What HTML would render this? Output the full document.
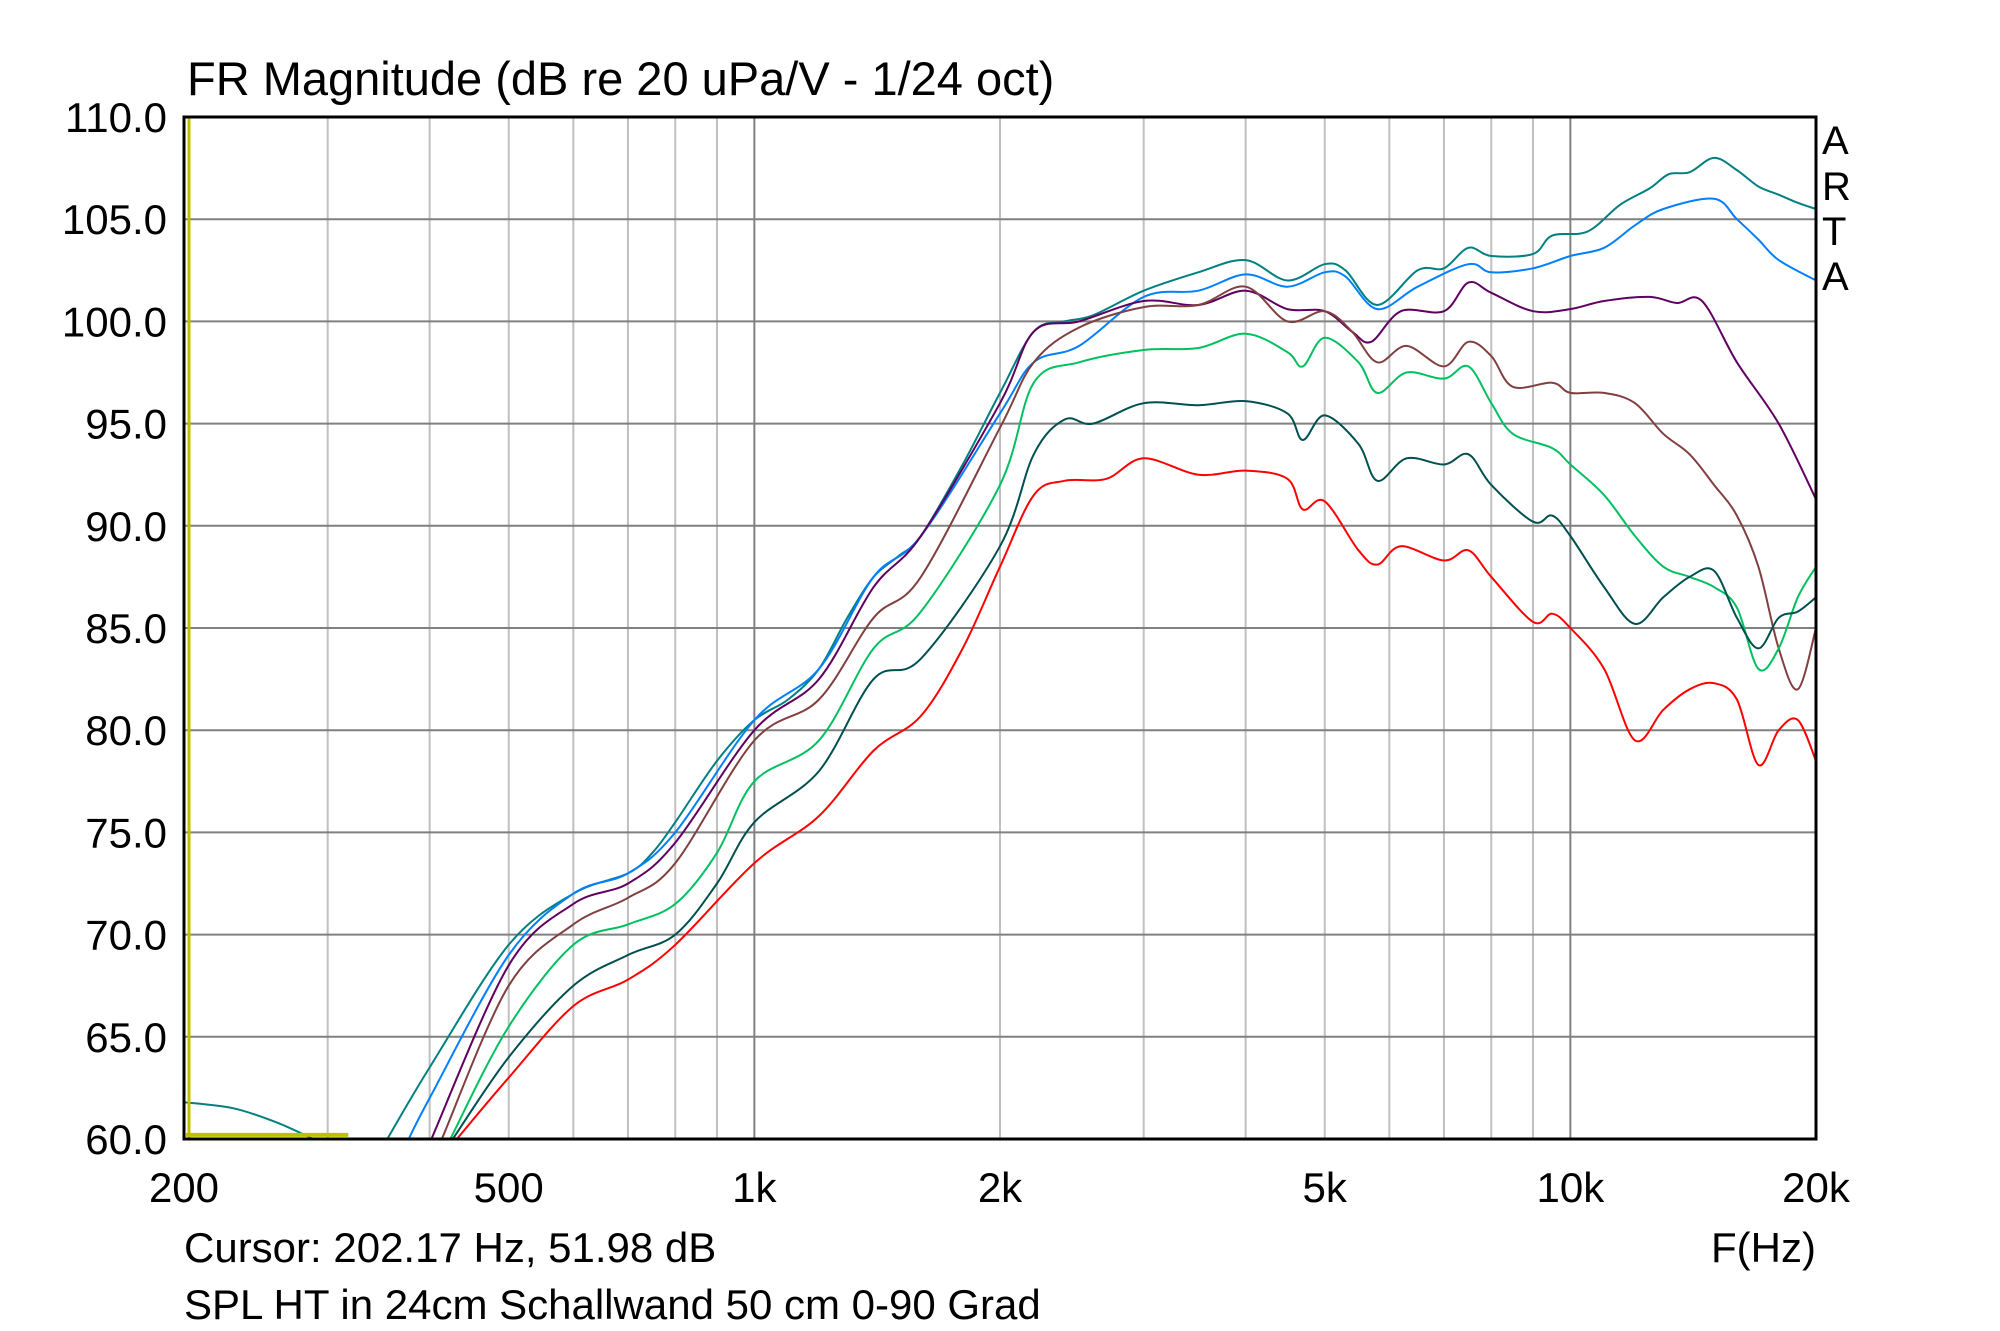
<!DOCTYPE html>
<html><head><meta charset="utf-8"><style>
html,body{margin:0;padding:0;background:#fff;}
svg{display:block;font-family:"Liberation Sans",sans-serif;}
</style></head><body>
<svg id="s" width="2000" height="1331" viewBox="0 0 2000 1331" xmlns="http://www.w3.org/2000/svg">
<rect width="2000" height="1331" fill="#fff"/>
<g id="grid"></g>
<g id="curves" fill="none" stroke-width="2" stroke-linejoin="round"></g>
<rect x="184" y="117" width="1632" height="1022" fill="none" stroke="#000" stroke-width="3"/>
<g id="labels" font-size="42" fill="#000"></g>
<text x="187" y="95" font-size="47">FR Magnitude (dB re 20 uPa/V - 1/24 oct)</text>
<g font-size="40">
<text x="1822" y="154">A</text><text x="1822" y="200">R</text><text x="1822" y="245">T</text><text x="1822" y="290">A</text>
</g>
<text x="184" y="1262" font-size="42">Cursor: 202.17 Hz, 51.98 dB</text>
<text x="1816" y="1262" font-size="42" text-anchor="end">F(Hz)</text>
<text x="184" y="1319" font-size="42">SPL HT in 24cm Schallwand 50 cm 0-90 Grad</text>
</svg>
<script>
var L=184,R=1816,T=117,B=1139;
function X(f){return L+816*Math.log10(f/200);}
function Y(d){return B-(d-60)*(B-T)/50;}
var g='';
[300,400,500,600,700,800,900,1000,2000,3000,4000,5000,6000,7000,8000,9000,10000].forEach(function(f){
 var maj=(f==1000||f==10000);
 g+='<line x1="'+X(f)+'" x2="'+X(f)+'" y1="'+T+'" y2="'+B+'" stroke="'+(maj?'#808080':'#c0c0c0')+'" stroke-width="2"/>';});
for(var d=65;d<110;d+=5){g+='<line x1="'+L+'" x2="'+R+'" y1="'+Y(d)+'" y2="'+Y(d)+'" stroke="#808080" stroke-width="2"/>';}
document.getElementById('grid').innerHTML=g;
var lb='';
for(var d=60;d<=110;d+=5){lb+='<text x="167" y="'+(Y(d)+15)+'" text-anchor="end">'+d.toFixed(1)+'</text>';}
[[200,'200'],[500,'500'],[1000,'1k'],[2000,'2k'],[5000,'5k'],[10000,'10k'],[20000,'20k']].forEach(function(a){
 lb+='<text x="'+X(a[0])+'' +'" y="1202" text-anchor="middle">'+a[1]+'</text>';});
document.getElementById('labels').innerHTML=lb;
var C=[
['#008080',[355,60,400,63.5,500,69.5,600,72,700,73,750,74,800,75.5,900,78.5,1000,80.5,1100,81.5,1200,83,1300,85.5,1400,87.5,1500,88.5,1600,89.5,1800,93,2000,96.5,2200,99.5,2400,100,2600,100.3,3000,101.5,3500,102.4,4000,103,4500,102,5000,102.8,5300,102.5,5800,100.8,6500,102.5,7000,102.6,7500,103.6,8000,103.2,9000,103.3,9500,104.2,10500,104.4,11500,105.7,12500,106.5,13200,107.2,14000,107.3,15000,108,16000,107.4,17000,106.6,18000,106.2,19000,105.8,20000,105.5]],
['#008080',[200,61.8,230,61.5,260,60.8,288,60]],
['#0080ff',[377,60,400,62,500,69,600,72,700,73,800,75,1000,80.5,1200,83,1400,87.5,1600,89.5,2000,95.5,2200,98,2500,98.8,3000,101.2,3500,101.5,4000,102.3,4500,101.7,5000,102.4,5300,102.2,5800,100.6,6500,101.7,7500,102.8,8000,102.4,9000,102.6,10000,103.2,11000,103.6,12000,104.7,13000,105.5,15000,106,16000,105,17000,104,18000,103,20000,102]],
['#600060',[402,60,500,68.5,600,71.5,700,72.5,800,74.5,1000,80,1200,82.5,1400,87,1600,89.5,2000,96,2200,99.5,2500,100,3000,101,3500,100.8,4000,101.5,4500,100.6,5000,100.5,5400,99.5,5700,99,6200,100.5,7000,100.5,7500,101.9,8000,101.4,9000,100.5,10000,100.6,11000,101,12500,101.2,13500,100.9,14500,101,16000,98,18000,95,20000,91.3]],
['#804040',[414,60,500,67.5,600,70.5,700,71.8,800,73.5,1000,79.5,1200,81.5,1400,85.5,1600,87.5,2000,94.8,2200,98,2500,99.7,3000,100.7,3500,100.8,4000,101.7,4500,100,5000,100.5,5400,99.5,5800,98,6300,98.8,7000,97.8,7500,99,8000,98.3,8500,96.8,9500,97,10000,96.5,11000,96.5,12000,96,13000,94.5,14000,93.5,15000,92,16000,90.5,17000,88,18000,84,19000,82,20000,85]],
['#00c060',[424,60,500,65.5,600,69.5,700,70.5,800,71.5,900,74,1000,77.5,1200,79.5,1400,84,1600,85.8,2000,92,2200,97,2500,98,3000,98.6,3500,98.7,4000,99.4,4500,98.5,4700,97.8,5000,99.2,5500,98,5800,96.5,6300,97.5,7000,97.2,7500,97.8,8000,96,8500,94.5,9500,93.8,10000,93,11000,91.5,12000,89.5,13000,88,14000,87.5,15000,87,16000,86,17000,83,18000,84,19000,86.5,20000,88]],
['#005050',[427,60,500,64,600,67.5,700,69,800,70,900,72.5,1000,75.5,1200,78,1400,82.5,1600,83.5,2000,89,2200,93.5,2400,95.2,2600,95,3000,96,3500,95.9,4000,96.1,4500,95.5,4700,94.2,5000,95.4,5500,94,5800,92.2,6300,93.3,7000,93,7500,93.5,8000,92,9000,90.2,9500,90.5,10000,89.5,11000,87,12000,85.2,13000,86.5,14000,87.5,15000,87.8,16000,85.5,17000,84,18000,85.5,19000,85.8,20000,86.5]],
['#ff0000',[432,60,500,63,600,66.5,700,67.8,800,69.5,1000,73.5,1200,75.8,1400,79,1600,80.7,1800,84,2000,88,2200,91.5,2400,92.2,2700,92.3,3000,93.3,3500,92.5,4000,92.7,4500,92.3,4700,90.8,5000,91.2,5500,88.8,5800,88.1,6200,89,7000,88.3,7500,88.8,8000,87.5,9000,85.3,9500,85.7,10000,85,11000,83,12000,79.5,13000,81,14000,82,15000,82.3,16000,81.5,17000,78.3,18000,80,19000,80.5,20000,78.5]]
];
var h='';
C.forEach(function(c){
 var p=c[1],pts=[];
 for(var i=0;i<p.length;i+=2)pts.push([X(p[i]),Y(p[i+1])]);
 var d='M'+pts[0][0].toFixed(1)+' '+pts[0][1].toFixed(1);
 for(var i=0;i<pts.length-1;i++){
  var p0=pts[i-1]||pts[i],p1=pts[i],p2=pts[i+1],p3=pts[i+2]||p2;
  var c1x=p1[0]+(p2[0]-p0[0])/6,c1y=p1[1]+(p2[1]-p0[1])/6,c2x=p2[0]-(p3[0]-p1[0])/6,c2y=p2[1]-(p3[1]-p1[1])/6;
  d+=' C'+c1x.toFixed(1)+' '+c1y.toFixed(1)+' '+c2x.toFixed(1)+' '+c2y.toFixed(1)+' '+p2[0].toFixed(1)+' '+p2[1].toFixed(1);
 }
 h+='<path d="'+d+'" stroke="'+c[0]+'"/>';
});
h+='<line x1="189" x2="189" y1="118" y2="1138" stroke="#c0c000" stroke-width="3"/>';
h+='<line x1="186" x2="'+X(318)+'" y1="'+Y(60.2)+'" y2="'+Y(60.2)+'" stroke="#c0c000" stroke-width="4"/>';
document.getElementById('curves').innerHTML=h;
</script>
</body></html>
